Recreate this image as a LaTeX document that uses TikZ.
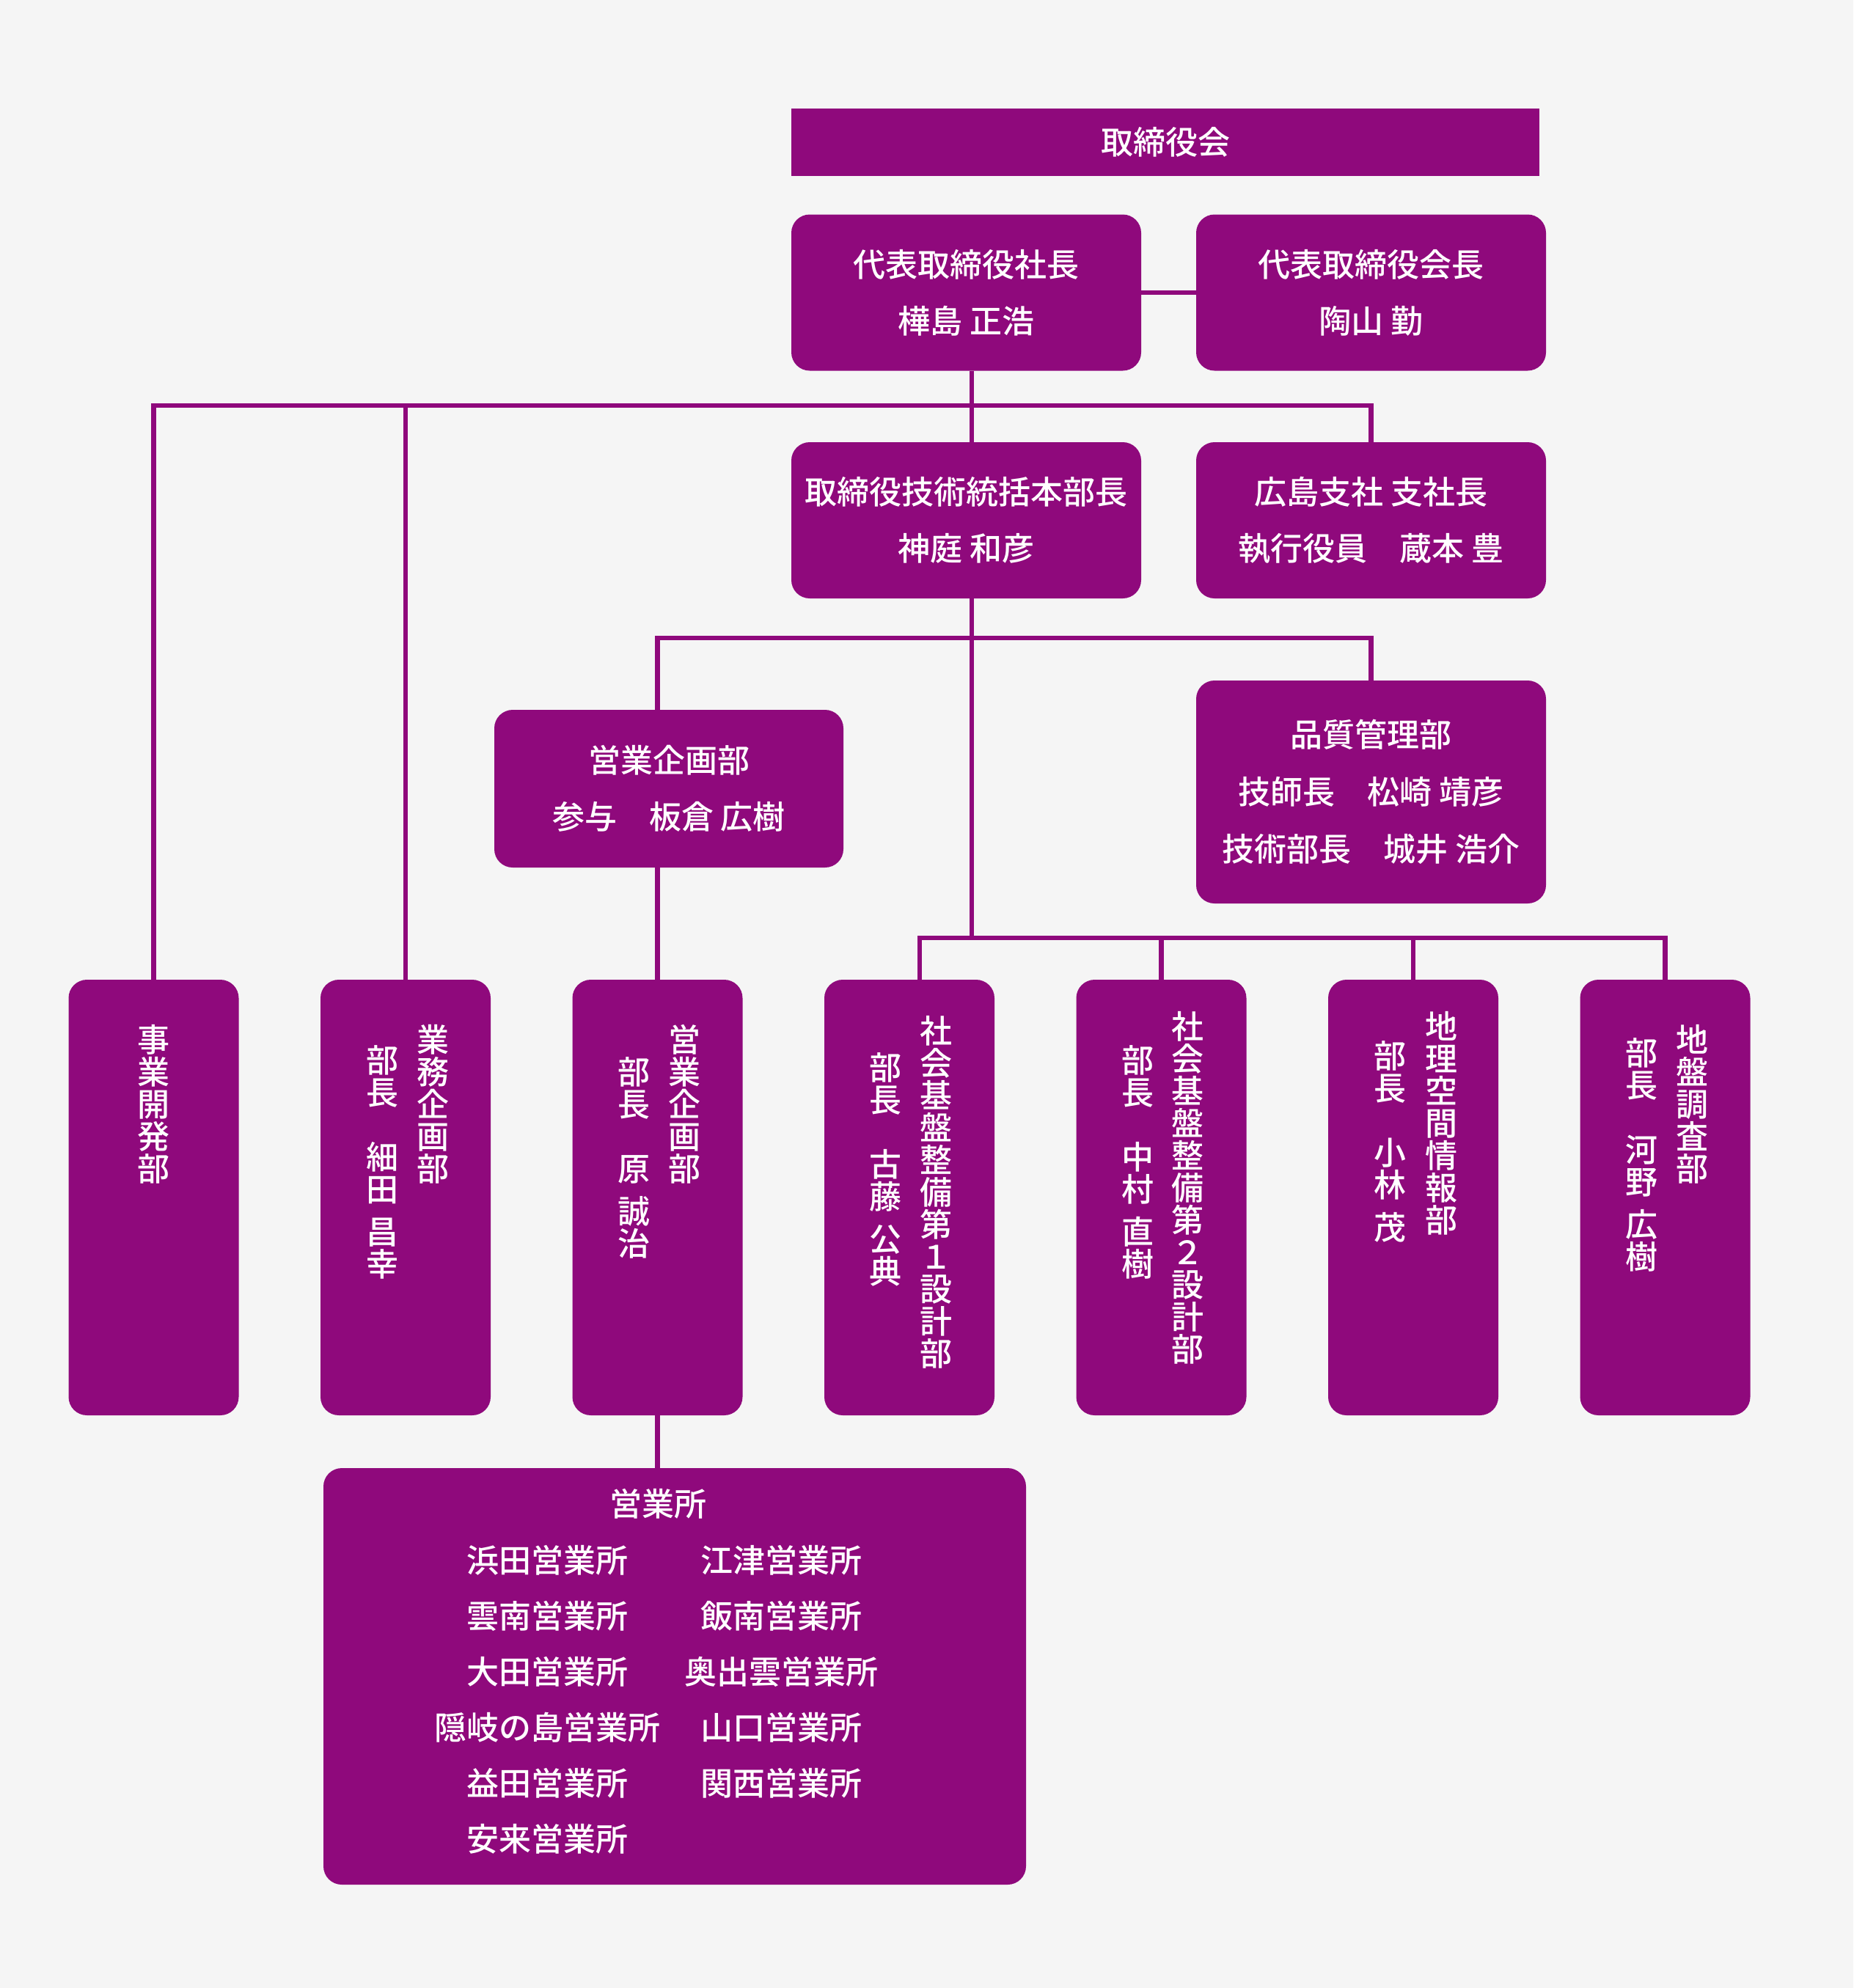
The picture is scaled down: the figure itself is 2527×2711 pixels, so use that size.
\documentclass[tikz,border=0pt]{standalone}
\usepackage{fontspec}
\IfFontExistsTF{Noto Sans CJK JP Medium}
  {\newfontfamily\jp{Noto Sans CJK JP Medium}}
  {\newfontfamily\jp{Noto Sans CJK JP}}
\definecolor{orgpurple}{RGB}{143,9,124}
\definecolor{orgbg}{RGB}{245,245,245}
\tikzset{
  unit/.style={fill=orgpurple, rounded corners=25pt, inner sep=0pt, text=white,
    font=\jp\fontsize{44}{77}\selectfont, align=center,
    minimum width=477pt, minimum height=213pt,
    execute at begin node={\rule{0pt}{46pt}}},
  dept/.style={fill=orgpurple, rounded corners=25pt, inner sep=0pt,
    minimum width=232pt, minimum height=594pt},
  vtext/.style={text=white, font=\jp\fontsize{44}{44}\selectfont, align=center,
    inner sep=0pt, anchor=north},
  office/.style={text=white, font=\jp\fontsize{44}{44}\selectfont, inner sep=0pt},
  conn/.style={draw=orgpurple, line width=6.5pt},
}
\begin{document}
\begin{tikzpicture}[x=1pt,y=-1pt]
  \fill[orgbg] (0,0) rectangle (2527,2711);
  \useasboundingbox (0,0) rectangle (2527,2711);

  % top management
  \node[fill=orgpurple, inner sep=0pt, text=white, font=\jp\fontsize{44}{44}\selectfont,
    minimum width=1020pt, minimum height=92pt] (board) at (1589,194) {取締役会};
  \node[unit] (pres) at (1317.5,399) {代表取締役社長\\樺島 正浩};
  \node[unit] (chair) at (1869.5,399) {代表取締役会長\\陶山 勤};
  \node[unit] (tech) at (1317.5,709.5) {取締役技術統括本部長\\神庭 和彦};
  \node[unit] (shisha) at (1869.5,709.5) {広島支社 支社長\\執行役員　蔵本 豊};
  \node[unit, minimum height=304pt, font=\jp\fontsize{44}{78}\selectfont,
    execute at begin node={}]
    (hinshitsu) at (1869.5,1080) {品質管理部\\技師長　松崎 靖彦\\技術部長　城井 浩介};
  \node[unit, minimum width=476pt, minimum height=215pt] (kikaku) at (912,1075.5)
    {営業企画部\\参与　板倉 広樹};

  % departments
  \foreach \n [count=\i from 0] in {jigyo,gyomu,eigyobu,sekkei1,sekkei2,chiri,chiban}
    \node[dept] (\n) at (209.5+343.5*\i,1633) {};

  \node[vtext] (jigyoT) at (209,1397) {事\\業\\開\\発\\部};
  \node[vtext] (gyomuT) at (590,1397) {業\\務\\企\\画\\部};
  \node[vtext] (gyomuN) at (521,1425) {部\\長\\[44pt]細\\田\\[14pt]昌\\幸};
  \node[vtext] (eigyobuT) at (933,1397) {営\\業\\企\\画\\部};
  \node[vtext] (eigyobuN) at (864,1441) {部\\長\\[44pt]原\\[14pt]誠\\治};
  \node[vtext] (sekkei1T) at (1276,1385) {社\\会\\基\\盤\\整\\備\\第\\１\\設\\計\\部};
  \node[vtext] (sekkei1N) at (1207,1435) {部\\長\\[44pt]古\\藤\\[14pt]公\\典};
  \node[vtext] (sekkei2T) at (1619,1379) {社\\会\\基\\盤\\整\\備\\第\\２\\設\\計\\部};
  \node[vtext] (sekkei2N) at (1551,1425) {部\\長\\[44pt]中\\村\\[14pt]直\\樹};
  \node[vtext] (chiriT) at (1965,1379) {地\\理\\空\\間\\情\\報\\部};
  \node[vtext] (chiriN) at (1895,1419) {部\\長\\[44pt]小\\林\\[14pt]茂};
  \node[vtext] (chibanT) at (2307,1397) {地\\盤\\調\\査\\部};
  \node[vtext] (chibanN) at (2238,1415) {部\\長\\[44pt]河\\野\\[14pt]広\\樹};

  % sales offices
  \node[fill=orgpurple, rounded corners=25pt, inner sep=0pt,
    minimum width=958pt, minimum height=568pt] (eigyosho) at (920,2286) {};
  \node[office] (eigyoshoT) at (897,2051) {営業所};
  \foreach \s [count=\i from 0] in {浜田営業所,雲南営業所,大田営業所,隠岐の島営業所,益田営業所,安来営業所}
    \node[office] (shoL\i) at (746.5,2128+76*\i) {\s};
  \foreach \s [count=\i from 0] in {江津営業所,飯南営業所,奥出雲営業所,山口営業所,関西営業所}
    \node[office] (shoR\i) at (1065,2128+76*\i) {\s};

  % connectors
  \coordinate (spine) at (1325,553);
  \coordinate (techbus) at (1325,870);
  \coordinate (sekkeibus) at (1325,1279);

  \draw[conn] (pres.east) -- (chair.west);
  \draw[conn] (pres.south -| spine) -- (tech.north -| spine);
  \draw[conn] (jigyo.north) |- (spine) -| (shisha.north);
  \draw[conn] (gyomu.north) -- (gyomu.north |- spine);
  \draw[conn] (tech.south -| spine) -- (sekkeibus);
  \draw[conn] (eigyobu.north |- kikaku.north) |- (techbus) -| (hinshitsu.north);
  \draw[conn] (kikaku.south -| eigyobu) -- (eigyobu.north);
  \draw[conn] ([xshift=14pt]sekkei1.north) |- (sekkeibus) -| (chiban.north);
  \foreach \n in {sekkei2,chiri}
    \draw[conn] (\n.north) -- (\n.north |- sekkeibus);
  \draw[conn] (eigyobu.south) -- (eigyosho.north -| eigyobu);
\end{tikzpicture}
\end{document}
